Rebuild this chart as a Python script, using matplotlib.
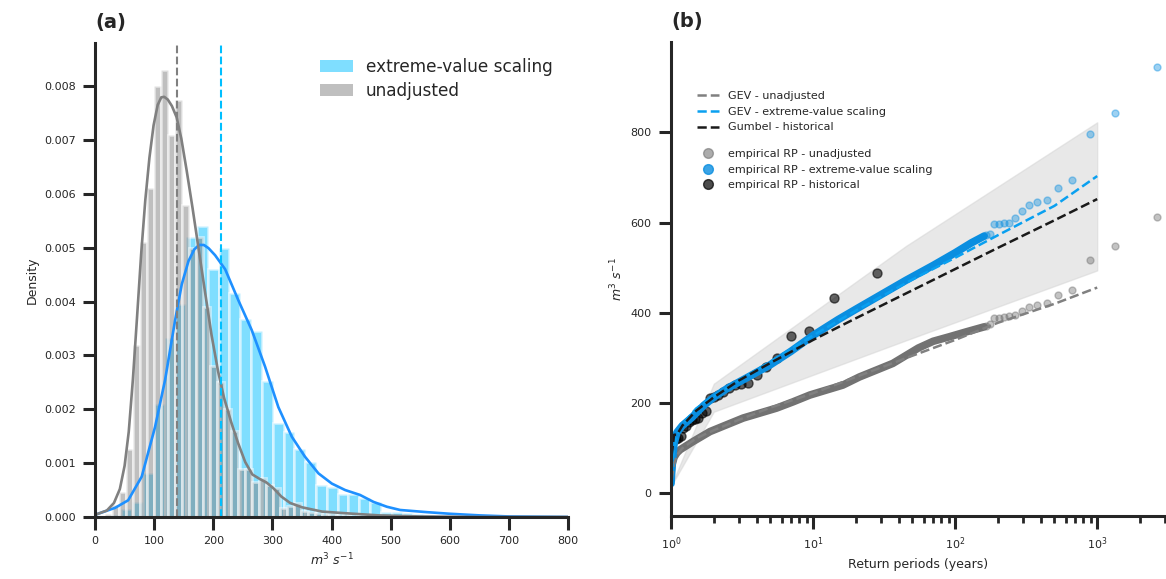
import numpy as np
import matplotlib
matplotlib.use("Agg")
import matplotlib.pyplot as plt
from matplotlib.patches import Patch
from matplotlib.lines import Line2D
from matplotlib.ticker import FormatStrFormatter

# ---- panel (a): histograms (density) ----
blue_bin_start = 26.0
blue_bin_width = 18.3
blue_hist = [0.00004, 0.00015, 0.00028, 0.00081, 0.0021, 0.00333, 0.00395, 0.0052,
             0.0054, 0.0046, 0.0050, 0.00416, 0.00367, 0.00345, 0.00252, 0.00175,
             0.00157, 0.00126, 0.00103, 0.00059, 0.00056, 0.00042, 0.00042, 0.00036,
             0.00028, 0.0001, 0.00009, 0.00007, 0.00005, 0.00003, 0.00002, 0.00002,
             0.00001, 0.00001, 0.00001]

gray_bin_start = 16.9
gray_bin_width = 11.85
gray_hist = [0.00005, 0.00022, 0.00047, 0.00126, 0.0032, 0.0051, 0.0061, 0.0080,
             0.0083, 0.0071, 0.00775, 0.0058, 0.0050, 0.0052, 0.0039, 0.0028,
             0.0025, 0.0020, 0.0016, 0.0009, 0.0009, 0.00065, 0.00072, 0.0006,
             0.00053, 0.00017, 0.0002, 0.00026, 0.00012, 0.0001, 0.00008, 0.00005,
             0.00006, 0.00003, 0.00003, 0.00002, 0.00002, 0.00001, 0.00001]

# KDE curves
gray_kde_x = [0, 20, 32, 42, 50, 57, 64, 71, 78, 85, 92, 99, 106, 112, 117, 123, 130,
              138, 146, 155, 165, 175, 186, 197, 208, 218, 230, 242, 254, 266, 278,
              290, 302, 315, 330, 350, 384, 423, 480, 550, 650, 800]
gray_kde_y = [0.00004, 0.00012, 0.00026, 0.00052, 0.00095, 0.00158, 0.00255, 0.0037,
              0.00488, 0.00588, 0.00667, 0.00727, 0.00765, 0.00779, 0.0078, 0.00775,
              0.00763, 0.00742, 0.00702, 0.00643, 0.00573, 0.00499, 0.00418, 0.00338,
              0.00271, 0.00222, 0.00177, 0.00137, 0.00102, 0.00079, 0.00071, 0.00064,
              0.00053, 0.00038, 0.00026, 0.00018, 0.0001, 0.00007, 0.00003, 0.00001,
              0.0, 0.0]

blue_kde_x = [0, 34, 56, 79, 101.5, 118.4, 135.4, 146.7, 158, 168, 176, 184, 192, 203,
              220, 242.5, 265, 287.6, 310, 332.8, 355, 377.8, 400.5, 423, 448, 471,
              493.6, 516, 561, 600, 650, 700, 800]
blue_kde_y = [0.00004, 0.00017, 0.00031, 0.00075, 0.00167, 0.00254, 0.00365, 0.00432,
              0.00475, 0.00497, 0.00505, 0.00505, 0.00499, 0.00486, 0.0046, 0.00402,
              0.00347, 0.00279, 0.00204, 0.00149, 0.00112, 0.00081, 0.00062, 0.0005,
              0.00041, 0.00028, 0.00019, 0.00013, 0.00009, 0.00006, 0.00003, 0.00001,
              0.0]

gray_mean = 138
blue_mean = 213

# ---- panel (b): return periods ----
ci_T = [1.0, 2.0, 45.0, 1000.0]
ci_lo = [16, 181, 339, 494]
ci_hi = [16, 243, 548, 822]

gev_T = [1.01, 1.05, 1.1, 1.2, 1.5, 2, 3, 5, 10, 20, 50, 100, 200, 500, 1000]
gev_unadj = [30, 65, 85, 100, 122, 140, 163, 190, 222, 258, 305, 340, 378, 420, 456]
gev_scaled = [46, 100, 128, 153, 188, 216, 250, 292, 350, 405, 474, 522, 572, 637, 703]
gumbel_hist = [85, 130, 130, 150, 183, 213, 250, 289, 340, 388, 450, 497, 544, 605, 652]

# dense part of the empirical return-period curves
dense_T_blue = [1.0, 1.02, 1.05, 1.1, 1.2, 1.4, 1.7, 2.0, 2.5, 3.5, 5, 7, 10, 15, 20,
                30, 45, 70, 100, 130, 160]
dense_Q_blue = [22, 70, 110, 135, 150, 168, 195, 213, 233, 258, 285, 315, 350, 385, 408,
                440, 472, 505, 533, 555, 570]
dense_T_gray = [1.0, 1.02, 1.05, 1.1, 1.16, 1.43, 1.88, 2.46, 3.22, 4.22, 5.53, 7.24,
                9.5, 12.4, 16.2, 21.2, 27.8, 36.4, 55, 70, 91, 120, 160]
dense_Q_gray = [45, 65, 80, 90, 97, 115, 137, 152, 167, 178, 189, 203, 218, 229, 240,
                258, 273, 288, 322, 337, 347, 358, 369]

# the largest events, shown as separate dots
top_T = [2650, 1325, 883, 662, 530, 442, 379, 331, 294, 265, 241, 221, 204, 189, 177, 166]
top_Q_blue = [945, 843, 796, 694, 677, 650, 645, 639, 625, 611, 600, 598, 597, 596, 575, 572]
top_Q_gray = [613, 547, 516, 450, 439, 422, 418, 414, 404, 395, 392, 390, 389, 388, 375, 370]

hist_T = [28, 14, 9.33, 7, 5.6, 4.67, 4.0, 3.5, 3.11, 2.8, 2.55, 2.33, 2.15, 2.0, 1.87,
          1.75, 1.65, 1.56, 1.47, 1.4, 1.33, 1.27, 1.22, 1.17, 1.12, 1.08, 1.04]
hist_Q = [489, 433, 359, 348, 299, 280, 262, 245, 243, 240, 233, 225, 218, 213, 211,
          183, 178, 168, 164, 162, 158, 150, 145, 128, 122, 120, 118]

# ---- style ----
dark = "#262626"
plt.rcParams.update({
    "font.family": "DejaVu Sans",
    "axes.linewidth": 2.2,
    "axes.edgecolor": dark,
    "xtick.color": dark,
    "ytick.color": dark,
    "xtick.labelsize": 8,
    "ytick.labelsize": 8,
    "xtick.major.width": 2.2,
    "ytick.major.width": 2.2,
    "xtick.minor.width": 2.0,
    "xtick.major.size": 9,
    "ytick.major.size": 9,
    "xtick.minor.size": 5,
    "xtick.major.pad": 5,
    "ytick.major.pad": 5,
    "axes.labelsize": 9,
    "text.color": dark,
    "axes.labelcolor": dark,
})

fig = plt.figure(figsize=(11.66, 5.79), dpi=100)
ax1 = fig.add_axes([0.0815, 0.1071, 0.4057, 0.8187])
ax2 = fig.add_axes([0.5755, 0.1088, 0.4245, 0.8187])

# ---- panel (a) ----
blue_edges = blue_bin_start + blue_bin_width * np.arange(len(blue_hist))
gray_edges = gray_bin_start + gray_bin_width * np.arange(len(gray_hist))
ax1.bar(blue_edges, blue_hist, width=blue_bin_width, align="edge",
        color="deepskyblue", alpha=0.5, edgecolor="white", linewidth=2)
ax1.bar(gray_edges, gray_hist, width=gray_bin_width, align="edge",
        color="gray", alpha=0.5, edgecolor="white", linewidth=2)
ax1.plot(blue_kde_x, blue_kde_y, color="dodgerblue", lw=1.9)
ax1.plot(gray_kde_x, gray_kde_y, color="gray", lw=1.9)
ax1.axvline(gray_mean, color="gray", ls="--", lw=1.5)
ax1.axvline(blue_mean, color="deepskyblue", ls="--", lw=1.5)

ax1.set_xlim(0, 800)
ax1.set_ylim(0, 0.0088)
ax1.set_xticks(np.arange(0, 801, 100))
ax1.set_yticks(np.arange(0, 0.0081, 0.001))
ax1.yaxis.set_major_formatter(FormatStrFormatter("%.3f"))
ax1.set_xlabel(r"$m^3\ s^{-1}$")
ax1.set_ylabel("Density")
ax1.set_title("(a)", loc="left", fontweight="bold", fontsize=14, pad=11)
for s in ["top", "right"]:
    ax1.spines[s].set_visible(False)
leg_a = [Patch(facecolor="deepskyblue", alpha=0.5, label="extreme-value scaling"),
         Patch(facecolor="gray", alpha=0.5, label="unadjusted")]
ax1.legend(handles=leg_a, loc="upper right", frameon=False, fontsize=12.2,
           bbox_to_anchor=(1.0, 1.0), labelspacing=0.35, handlelength=1.9)

# ---- panel (b) ----
ax2.fill_between(ci_T, ci_lo, ci_hi, color="lightgray", alpha=0.5)
ax2.plot(dense_T_gray, dense_Q_gray, color="#727272", lw=5.5, solid_capstyle="round")
ax2.scatter(top_T, top_Q_gray, s=25, color="dimgray", alpha=0.4, linewidths=1)
ax2.plot(dense_T_blue, dense_Q_blue, color="#0a8ee0", lw=5.5, solid_capstyle="round")
ax2.scatter(top_T, top_Q_blue, s=25, color="#0a8ee0", alpha=0.4, linewidths=1)
ax2.scatter(hist_T, hist_Q, s=42, color="black", alpha=0.6, linewidths=1)
ax2.plot(gev_T, gev_unadj, color="gray", ls="--", lw=1.8)
ax2.plot(gev_T, gev_scaled, color="#0aa0f0", ls="--", lw=1.8)
ax2.plot(gev_T, gumbel_hist, color="#1a1a1a", ls="--", lw=1.8)

ax2.set_xscale("log")
ax2.set_xlim(1, 3050)
ax2.set_ylim(-50, 1000)
ax2.set_yticks(np.arange(0, 801, 200))
ax2.set_xlabel("Return periods (years)")
ax2.set_ylabel(r"$m^3\ s^{-1}$")
ax2.set_title("(b)", loc="left", fontweight="bold", fontsize=14, pad=11)
for s in ["top", "right"]:
    ax2.spines[s].set_visible(False)

leg_lines = [Line2D([], [], color="gray", ls="--", lw=1.8, label="GEV - unadjusted"),
             Line2D([], [], color="#0aa0f0", ls="--", lw=1.8, label="GEV - extreme-value scaling"),
             Line2D([], [], color="#1a1a1a", ls="--", lw=1.8, label="Gumbel - historical")]
l1 = ax2.legend(handles=leg_lines, loc="upper left", frameon=False, fontsize=8,
                bbox_to_anchor=(0.032, 0.917), labelspacing=0.5)
ax2.add_artist(l1)
leg_pts = [Line2D([], [], ls="", marker="o", ms=7, color="dimgray", alpha=0.55,
                  label="empirical RP - unadjusted"),
           Line2D([], [], ls="", marker="o", ms=7, color="#0a8ee0", alpha=0.8,
                  label="empirical RP - extreme-value scaling"),
           Line2D([], [], ls="", marker="o", ms=7, color="black", alpha=0.7,
                  label="empirical RP - historical")]
ax2.legend(handles=leg_pts, loc="upper left", frameon=False, fontsize=8,
           bbox_to_anchor=(0.032, 0.795), labelspacing=0.5)

fig.savefig("out.png", dpi=100)
